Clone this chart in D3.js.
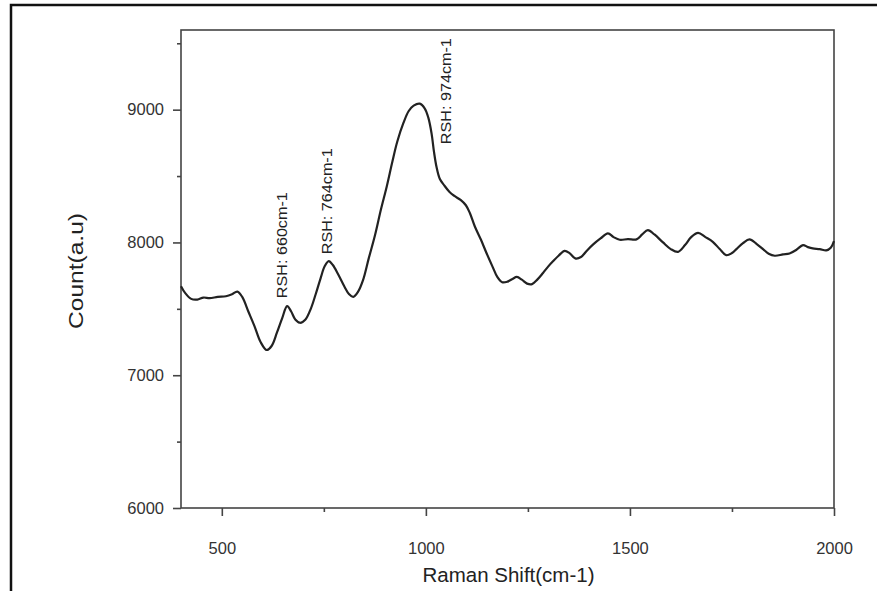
<!DOCTYPE html>
<html>
<head>
<meta charset="utf-8">
<script src="https://cdn.jsdelivr.net/npm/d3@7/dist/d3.min.js"></script>
<style>
  html, body { margin: 0; padding: 0; background: #fff; }
  svg { display: block; }
  text { font-family: "Liberation Sans", Arial, sans-serif; }
</style>
</head>
<body>
<svg id="chart" width="877" height="591"></svg>
<script>
// Raman spectrum: shift (cm-1) and measured count (a.u.)
const ramanShift = [
  400, 410, 425, 440, 455, 470, 490, 510, 525, 538,
  550, 565, 580, 595, 610, 622, 635, 648, 660, 670,
  680, 692, 705, 718, 730, 742, 752, 762, 772, 785,
  800, 812, 822, 834, 846, 860, 875, 890, 904, 918,
  930, 945, 958, 970, 985, 997, 1006, 1014, 1020, 1026,
  1034, 1045, 1058, 1070, 1085, 1098, 1108, 1120, 1135, 1149,
  1163, 1175, 1187, 1200, 1212, 1223, 1235, 1248, 1260, 1273,
  1287, 1300, 1312, 1325, 1340, 1352, 1366, 1380, 1395, 1410,
  1428, 1446, 1460, 1475, 1495, 1516, 1530, 1544, 1560, 1581,
  1600, 1618, 1635, 1650, 1667, 1685, 1703, 1720, 1736, 1750,
  1761, 1777, 1793, 1810, 1826, 1840, 1855, 1875, 1891, 1908,
  1924, 1936, 1948, 1965, 1981, 1992, 2000
];
const counts = [
  7670, 7620, 7575, 7570, 7585, 7580, 7590, 7595, 7610, 7630,
  7590, 7480, 7370, 7250, 7190, 7220, 7320, 7430, 7520, 7480,
  7420, 7395, 7420, 7500, 7610, 7730, 7820, 7860, 7830, 7760,
  7670, 7610, 7590, 7630, 7716, 7880, 8050, 8250, 8420, 8610,
  8760, 8900, 8990, 9030, 9045, 9010, 8940, 8820, 8680, 8570,
  8480, 8430, 8380, 8350, 8320, 8280, 8220, 8120, 8020, 7917,
  7820, 7740, 7700, 7705, 7725, 7740, 7720, 7690, 7686, 7720,
  7770, 7820, 7860, 7900, 7937, 7920, 7880, 7890, 7940, 7985,
  8030, 8068, 8040, 8020, 8025, 8023, 8060, 8093, 8060, 8000,
  7950, 7929, 7980, 8040, 8072, 8040, 8005, 7950, 7904, 7920,
  7950, 7995, 8023, 7990, 7950, 7915, 7900, 7910, 7917, 7945,
  7980, 7965, 7955, 7950, 7940, 7960, 8010
];

// Peak annotations (text starts at labelCount and runs upward)
const peakLabels = ["RSH: 660cm-1", "RSH: 764cm-1", "RSH: 974cm-1"];
const labelShift = [660, 770, 1062];
const labelCount = [7580, 7911, 8740];

// Axis ticks
const xTicks = [500, 1000, 1500, 2000];
const xMinorTicks = [750, 1250, 1750];
const yTicks = [6000, 7000, 8000, 9000];
const yMinorTicks = [6500, 7500, 8500, 9500];

const svg = d3.select("#chart");

// outer frame
svg.append("path")
  .attr("d", "M11,600 L11,5 L890,5")
  .attr("fill", "none")
  .attr("stroke", "#111")
  .attr("stroke-width", 2.5);

const plot = { left: 181, right: 834, top: 30, bottom: 508 };

const x = d3.scaleLinear().domain([400, 2000]).range([plot.left, plot.right]);
const y = d3.scaleLinear().domain([6000, 9600]).range([plot.bottom, plot.top]);

const axisColor = "#444";
const labelColor = "#333";

// plot frame
svg.append("rect")
  .attr("x", plot.left).attr("y", plot.top)
  .attr("width", plot.right - plot.left)
  .attr("height", plot.bottom - plot.top)
  .attr("fill", "none")
  .attr("stroke", axisColor)
  .attr("stroke-width", 1.6);

// x axis
svg.append("g")
  .attr("transform", `translate(0,${plot.bottom})`)
  .call(d3.axisBottom(x).tickValues(xTicks).tickSize(8).tickPadding(26).tickFormat(d3.format("d")));
svg.append("g")
  .attr("transform", `translate(0,${plot.bottom})`)
  .call(d3.axisBottom(x).tickValues(xMinorTicks).tickSize(4).tickFormat(""));

// y axis
svg.append("g")
  .attr("transform", `translate(${plot.left},0)`)
  .call(d3.axisLeft(y).tickValues(yTicks).tickSize(8).tickPadding(9).tickFormat(d3.format("d")));
svg.append("g")
  .attr("transform", `translate(${plot.left},0)`)
  .call(d3.axisLeft(y).tickValues(yMinorTicks).tickSize(4).tickFormat(""));

svg.selectAll(".domain").remove();
svg.selectAll(".tick line").attr("stroke", axisColor).attr("stroke-width", 1.6);
svg.selectAll(".tick text")
  .attr("fill", labelColor)
  .style("font-size", "16.5px");

// axis titles
svg.append("text")
  .attr("x", (plot.left + plot.right) / 2 + 1)
  .attr("y", 582)
  .attr("text-anchor", "middle")
  .attr("fill", "#222")
  .style("font-size", "20.5px")
  .text("Raman Shift(cm-1)");

svg.append("text")
  .attr("transform", "translate(83,271) rotate(-90)")
  .attr("text-anchor", "middle")
  .attr("fill", "#222")
  .style("font-size", "20px")
  .attr("textLength", 116)
  .attr("lengthAdjust", "spacingAndGlyphs")
  .text("Count(a.u)");

// spectrum
const line = d3.line()
  .x((d, i) => x(ramanShift[i]))
  .y(d => y(d))
  .curve(d3.curveCatmullRom.alpha(0.5));

svg.append("path")
  .datum(counts)
  .attr("d", line)
  .attr("fill", "none")
  .attr("stroke", "#222")
  .attr("stroke-width", 2.2)
  .attr("stroke-linejoin", "round");

// peak labels
svg.selectAll(".peak-label")
  .data(peakLabels)
  .join("text")
  .attr("class", "peak-label")
  .attr("transform", (d, i) => `translate(${x(labelShift[i])},${y(labelCount[i])}) rotate(-90)`)
  .attr("fill", "#222")
  .style("font-size", "14px")
  .attr("textLength", 106)
  .attr("lengthAdjust", "spacingAndGlyphs")
  .text(d => d);
</script>
</body>
</html>
